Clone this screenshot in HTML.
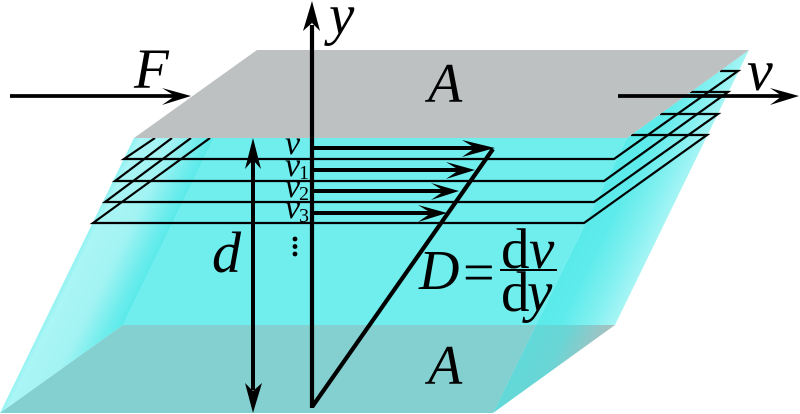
<!DOCTYPE html>
<html>
<head>
<meta charset="utf-8">
<style>
html,body{margin:0;padding:0;background:#fff;width:800px;height:414px;overflow:hidden}
svg{display:block}
text{font-family:"Liberation Serif",serif;fill:#000}
.i{font-style:italic}
</style>
</head>
<body>
<svg width="800" height="414" viewBox="0 0 800 414" xmlns="http://www.w3.org/2000/svg">
<defs>
<linearGradient id="lf" gradientUnits="userSpaceOnUse" x1="134" y1="138" x2="199" y2="170">
<stop offset="0" stop-color="#90f2f2"/>
<stop offset=".08" stop-color="#aaf5f5"/>
<stop offset=".5" stop-color="#a2f3f3"/>
<stop offset=".85" stop-color="#6cecec"/>
<stop offset="1" stop-color="#5aeaea"/>
</linearGradient>
<linearGradient id="rf" gradientUnits="userSpaceOnUse" x1="627" y1="138" x2="692" y2="170">
<stop offset="0" stop-color="#5aeaea"/>
<stop offset=".3" stop-color="#5eebeb"/>
<stop offset=".7" stop-color="#84f0f0"/>
<stop offset="1" stop-color="#a8f5f5"/>
</linearGradient>
<linearGradient id="rb" gradientUnits="userSpaceOnUse" x1="536" y1="325" x2="605" y2="359">
<stop offset="0" stop-color="#62d8d8"/>
<stop offset=".4" stop-color="#6ad5d5"/>
<stop offset="1" stop-color="#b4bcbc"/>
</linearGradient>
</defs>

<polygon points="214,138 627,138 536,325 123,325" fill="#70eeee"/>
<polygon points="134,138 214,138 123,325 0,413" fill="url(#lf)"/>
<polygon points="627,138 749,50 615,325 536,325" fill="url(#rf)"/>
<polygon points="123,325 536,325 493,413 0,413" fill="#84cfcf"/>
<polygon points="536,325 615,325 493,413" fill="url(#rb)"/>

<g stroke="#000" stroke-width="2.2" fill="none">
<polyline points="155,138 124,159 614,159 738,71 720,71"/>
<polyline points="172,138 115,181 604,181 728,92 690,92"/>
<polyline points="191,138 105,202 594,202 718,114 660,114"/>
<polyline points="210,138 93,223 584,223 707,135 631,135"/>
</g>

<polygon points="257,50 749,50 627,138 134,138" fill="#bdc1c1"/>

<text class="i" x="134" y="88" font-size="57">F</text>
<text class="i" x="428" y="102" font-size="56">A</text>
<text class="i" x="428" y="384" font-size="56">A</text>
<text class="i" x="329" y="34" font-size="57">y</text>
<text class="i" x="747" y="90" font-size="58">v</text>
<text class="i" x="212" y="272" font-size="58">d</text>

<g stroke="#000" fill="none">
<line x1="10" y1="96" x2="176" y2="96" stroke-width="3.8"/>
<line x1="618" y1="96" x2="784" y2="96" stroke-width="3.8"/>
<line x1="312" y1="25" x2="312" y2="408" stroke-width="4.2"/>
<line x1="253" y1="160" x2="253" y2="390" stroke-width="4"/>
<line x1="312" y1="148" x2="478" y2="148" stroke-width="4"/>
<line x1="312" y1="170" x2="460" y2="170" stroke-width="4"/>
<line x1="312" y1="191" x2="444" y2="191" stroke-width="4"/>
<line x1="312" y1="213" x2="432" y2="213" stroke-width="4"/>
<line x1="312" y1="407" x2="493" y2="149" stroke-width="4.2"/>
</g>
<g fill="#000">
<polygon points="191,96 162,88 175,96 162,105"/>
<polygon points="799,96 770,88 782,96 770,105"/>
<polygon points="312,1 303,31 312,23 320,31"/>
<polygon points="253,138 245,169 253,160 261,169"/>
<polygon points="253,413 245,383 253,391 262,383"/>
<polygon points="495,148 462,140 475,148 462,157"/>
<polygon points="475,170 446,162 459,170 446,179"/>
<polygon points="459,191 431,183 444,191 431,200"/>
<polygon points="447,213 418,205 431,213 418,222"/>
<circle cx="295" cy="239" r="2.4"/>
<circle cx="295" cy="246.500" r="2.400"/>
<circle cx="295" cy="254" r="2.4"/>
</g>

<text class="i" x="285" y="154" font-size="34">v</text>
<text class="i" x="285" y="176" font-size="34">v</text>
<text x="299" y="179" font-size="20">1</text>
<text class="i" x="285" y="197" font-size="34">v</text>
<text x="299" y="200" font-size="20">2</text>
<text class="i" x="285" y="218" font-size="34">v</text>
<text x="299" y="222" font-size="20">3</text>

<text class="i" x="419" y="289" font-size="56">D</text>
<text x="463" y="291" font-size="56">=</text>
<text x="501" y="268" font-size="57">d</text>
<text class="i" x="529" y="268" font-size="57">v</text>
<line x1="500" y1="270" x2="557" y2="270" stroke="#000" stroke-width="2"/>
<text x="501" y="311" font-size="57">d</text>
<text class="i" x="527" y="311" font-size="57">y</text>
</svg>
</body>
</html>
